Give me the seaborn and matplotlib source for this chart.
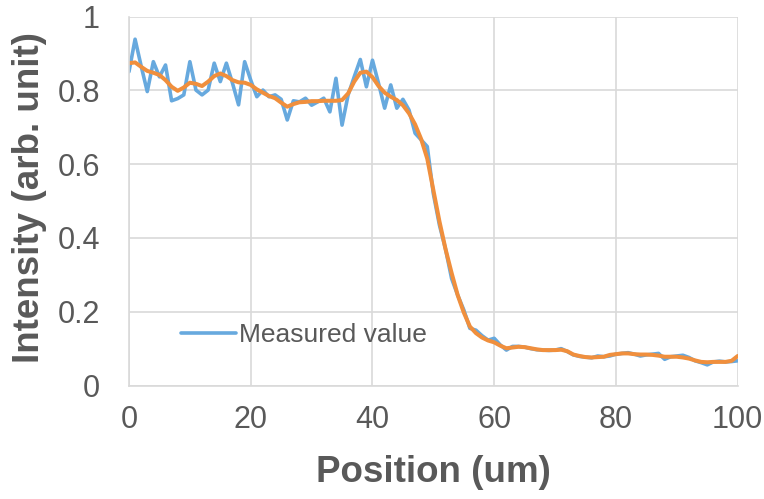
import matplotlib
matplotlib.use("Agg")
import matplotlib.pyplot as plt
import seaborn as sns
import pandas as pd

# ---- data ----
position = list(range(0, 101))
measured = [
    0.851, 0.939, 0.866, 0.797, 0.878, 0.837, 0.869, 0.772, 0.778, 0.788,
    0.878, 0.801, 0.788, 0.801, 0.874, 0.824, 0.874, 0.820, 0.761, 0.878,
    0.828, 0.783, 0.801, 0.783, 0.788, 0.776, 0.720, 0.772, 0.769, 0.779,
    0.760, 0.769, 0.779, 0.742, 0.833, 0.706, 0.788, 0.837, 0.884, 0.810,
    0.882, 0.819, 0.752, 0.815, 0.752, 0.776, 0.747, 0.684, 0.666, 0.648,
    0.520, 0.435, 0.370, 0.290, 0.245, 0.205, 0.155, 0.150, 0.135, 0.123,
    0.128, 0.110, 0.096, 0.106, 0.106, 0.104, 0.100, 0.097, 0.096, 0.095,
    0.096, 0.100, 0.092, 0.083, 0.079, 0.077, 0.075, 0.080, 0.078, 0.080,
    0.085, 0.087, 0.089, 0.085, 0.080, 0.083, 0.085, 0.087, 0.071, 0.078,
    0.080, 0.082, 0.076, 0.067, 0.062, 0.056, 0.064, 0.066, 0.064, 0.065,
    0.067,
]
smoothed = [
    0.874, 0.876, 0.864, 0.853, 0.848, 0.842, 0.828, 0.810, 0.799, 0.808,
    0.821, 0.818, 0.812, 0.824, 0.839, 0.846, 0.839, 0.828, 0.822, 0.821,
    0.815, 0.803, 0.794, 0.785, 0.779, 0.767, 0.756, 0.763, 0.768, 0.769,
    0.771, 0.771, 0.772, 0.772, 0.772, 0.774, 0.792, 0.824, 0.848, 0.851,
    0.836, 0.812, 0.794, 0.783, 0.774, 0.760, 0.738, 0.708, 0.668, 0.615,
    0.530, 0.445, 0.370, 0.305, 0.245, 0.198, 0.160, 0.142, 0.130, 0.122,
    0.117, 0.108, 0.101, 0.103, 0.105, 0.104, 0.101, 0.098, 0.096, 0.096,
    0.096, 0.097, 0.093, 0.084, 0.080, 0.077, 0.076, 0.077, 0.078, 0.083,
    0.085, 0.087, 0.087, 0.085, 0.084, 0.084, 0.083, 0.081, 0.078, 0.078,
    0.078, 0.076, 0.073, 0.068, 0.064, 0.063, 0.064, 0.064, 0.064, 0.067,
    0.080,
]
x_ticks = [0, 20, 40, 60, 80, 100]
y_ticks = [0, 0.2, 0.4, 0.6, 0.8, 1]
y_tick_labels = ["0", "0.2", "0.4", "0.6", "0.8", "1"]

df = pd.DataFrame({"Position": position, "Measured": measured, "Smoothed": smoothed})

sns.set_theme(style="white")
plt.rcParams["font.family"] = ["Liberation Sans", "DejaVu Sans"]

TXT = "#595959"
GRID = "#D9D9D9"
BLUE = "#67A9DE"
ORANGE = "#F08F3D"

fig = plt.figure(figsize=(7.64, 4.99), dpi=100)
ax = fig.add_axes([129 / 764, 1 - 385.5 / 499, 608.7 / 764, 368.8 / 499])

sns.lineplot(data=df, x="Position", y="Measured", ax=ax, color=BLUE,
             linewidth=2.6, label="Measured value")
sns.lineplot(data=df, x="Position", y="Smoothed", ax=ax, color=ORANGE,
             linewidth=2.9, label="_nolegend_")

ax.set_xlim(0, 100)
ax.set_ylim(0, 1)
ax.set_xticks(x_ticks)
ax.set_yticks(y_ticks)
ax.set_yticklabels(y_tick_labels)
ax.grid(True, color=GRID, linewidth=1.2)
ax.set_axisbelow(True)
for s in ["top", "right"]:
    ax.spines[s].set_visible(False)
for s in ["left", "bottom"]:
    ax.spines[s].set_color(GRID)
    ax.spines[s].set_linewidth(1.2)

ax.tick_params(axis="x", length=0, pad=14, labelsize=22, labelcolor=TXT)
ax.tick_params(axis="y", length=0, pad=21, labelsize=22, labelcolor=TXT)

ax.set_xlabel("Position (um)", fontsize=26.5, fontweight="bold", color=TXT, va="center")
ax.set_ylabel("Intensity (arb. unit)", fontsize=26.5, fontweight="bold", color=TXT,
              va="center", ha="center")
ax.xaxis.set_label_coords(0.5, (385.5 - 472) / 368.8)
ax.yaxis.set_label_coords((30 - 129) / 608.7, (385.5 - 197.5) / 368.8)

leg = ax.legend(loc="center left", bbox_to_anchor=(0.0854, 0.137), frameon=False,
                fontsize=19, handlelength=2.08, handletextpad=0.12, borderpad=0,
                borderaxespad=0, labelcolor=TXT)
for line in leg.get_lines():
    line.set_linewidth(2.6)

fig.savefig("out.png", dpi=100)
